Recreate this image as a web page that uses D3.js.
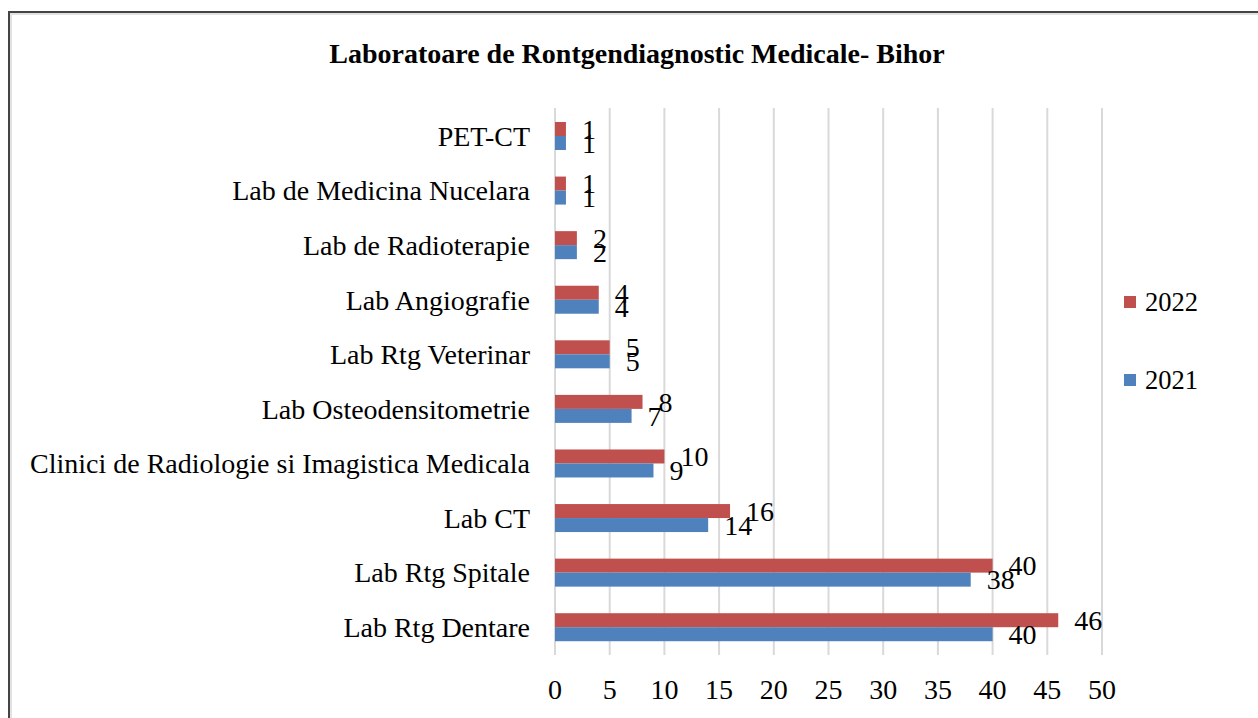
<!DOCTYPE html>
<html><head><meta charset="utf-8">
<script src="https://cdn.jsdelivr.net/npm/d3@7"></script>
<style>
html,body{margin:0;padding:0;background:#fff;}
text{font-family:"Liberation Serif","Times New Roman",serif;fill:#000;}
</style></head>
<body><svg id="c" width="1258" height="718"></svg>
<script>
const categories = ["PET-CT","Lab de Medicina Nucelara","Lab de Radioterapie","Lab Angiografie","Lab Rtg Veterinar","Lab Osteodensitometrie","Clinici de Radiologie si Imagistica Medicala","Lab CT","Lab Rtg Spitale","Lab Rtg Dentare"];
const values2022 = [1,1,2,4,5,8,10,16,40,46];
const values2021 = [1,1,2,4,5,7,9,14,38,40];
const ticks = [0,5,10,15,20,25,30,35,40,45,50];
const seriesNames = ["2022","2021"];
const colors = {"2022":"#C0504D","2021":"#4F81BD"};
const title = "Laboratoare de Rontgendiagnostic Medicale- Bihor";

const svg = d3.select("#c");
// frame
svg.append("path").attr("d","M11,718 V14 H1258").attr("fill","none").attr("stroke","#e2e2e2").attr("stroke-width",2);
svg.append("path").attr("d","M9,718 V12 H1258").attr("fill","none").attr("stroke","#444").attr("stroke-width",2);

svg.append("text").attr("x",637).attr("y",53).attr("dy","0.35em").attr("text-anchor","middle")
  .attr("font-weight","bold").attr("font-size",28).text(title);

const x = d3.scaleLinear().domain([0,50]).range([555,1102]);
const y = d3.scaleBand().domain(categories).range([108.7,654.5]).paddingInner(0.487).paddingOuter(0.2435);
const sub = d3.scaleBand().domain(seriesNames).range([0,y.bandwidth()]);

// gridlines
svg.append("g").selectAll("line").data(ticks).join("line")
  .attr("x1",d=>x(d)).attr("x2",d=>x(d)).attr("y1",108).attr("y2",655)
  .attr("stroke","#d9d9d9").attr("stroke-width",2);

// tick labels
svg.append("g").selectAll("text").data(ticks).join("text")
  .attr("x",d=>x(d)).attr("y",689).attr("dy","0.35em").attr("text-anchor","middle")
  .attr("font-size",28).text(d=>d);

// category labels
svg.append("g").selectAll("text").data(categories).join("text")
  .attr("x",530).attr("y",d=>y(d)+y.bandwidth()/2).attr("dy","0.35em").attr("text-anchor","end")
  .attr("font-size",28).text(d=>d);

const series = [{name:"2022",vals:values2022},{name:"2021",vals:values2021}];
series.forEach(s=>{
  const g = svg.append("g");
  g.selectAll("rect").data(categories).join("rect")
    .attr("x",x(0)).attr("y",(d)=>y(d)+sub(s.name))
    .attr("width",(d,i)=>x(s.vals[i])-x(0)).attr("height",sub.bandwidth())
    .attr("fill",colors[s.name]);
  g.selectAll("text").data(categories).join("text")
    .attr("x",(d,i)=>x(s.vals[i])+16).attr("y",d=>y(d)+sub(s.name)+sub.bandwidth()/2)
    .attr("dy","0.35em").attr("font-size",28).text((d,i)=>s.vals[i]);
});

// legend
const leg = svg.append("g");
[["2022",302],["2021",380]].forEach(([n,cy])=>{
  leg.append("rect").attr("x",1124).attr("y",cy-6).attr("width",12).attr("height",12).attr("fill",colors[n]);
  leg.append("text").attr("x",1145).attr("y",cy).attr("dy","0.35em").attr("font-size",26.5).text(n);
});
</script></body></html>
